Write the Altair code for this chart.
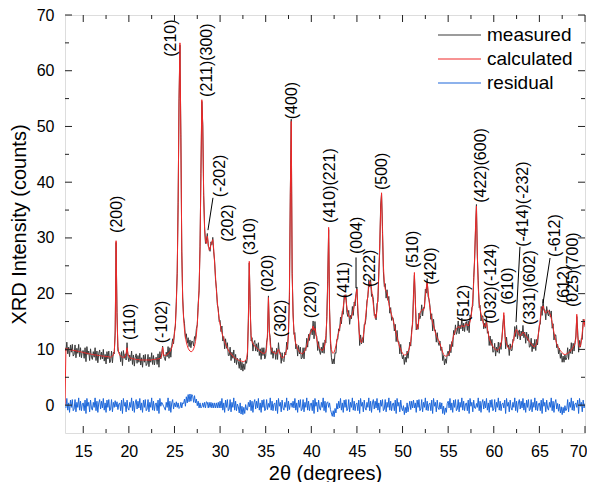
import altair as alt
import pandas as pd

# ---------------- data ----------------
X_START = 13.0
X_STEP = 0.1

calc_rows = [
    [0, 10.2, 10.1, 10.1, 10.0, 10.0, 9.9, 9.9, 9.9, 9.8],
    [9.8, 9.8, 9.7, 9.7, 9.7, 9.6, 9.6, 9.6, 9.5, 9.5],
    [9.4, 9.4, 9.4, 9.3, 9.3, 9.3, 9.2, 9.2, 9.2, 9.1],
    [9.1, 9.1, 9.0, 9.0, 9.0, 9.0, 8.9, 8.9, 8.9, 8.9],
    [8.8, 8.8, 8.8, 8.8, 8.7, 8.7, 8.7, 8.7, 8.7, 8.6],
    [8.6, 8.7, 8.8, 9.0, 9.6, 12.5, 29.5, 16.0, 10.5, 9.3],
    [9.0, 8.8, 8.7, 8.6, 8.6, 8.6, 8.7, 9.3, 10.3, 9.2],
    [8.7, 8.5, 8.4, 8.4, 8.3, 8.3, 8.3, 8.2, 8.2, 8.2],
    [8.2, 8.2, 8.1, 8.1, 8.1, 8.1, 8.1, 8.1, 8.1, 8.1],
    [8.1, 8.1, 8.1, 8.1, 8.1, 8.1, 8.2, 8.2, 8.2, 8.2],
    [8.2, 8.3, 8.3, 8.3, 8.4, 8.5, 8.8, 10.4, 9.2, 8.9],
    [8.9, 9.0, 9.1, 9.2, 9.4, 9.6, 9.9, 10.3, 10.9, 11.7],
    [12.8, 14.5, 18.0, 24.0, 36.0, 55.0, 65.0, 48.0, 28.0, 19.0],
    [15.5, 13.5, 12.2, 11.3, 10.7, 10.2, 9.9, 9.7, 9.6, 9.6],
    [9.8, 10.1, 10.6, 11.4, 12.6, 14.5, 17.5, 21.0, 28.0, 42.0],
    [54.8, 50.0, 38.0, 31.5, 29.5, 29.0, 30.3, 29.0, 27.8, 28.0],
    [28.8, 29.3, 29.7, 28.0, 25.5, 23.0, 20.5, 18.5, 16.8, 15.5],
    [14.5, 13.7, 13.0, 12.4, 11.9, 11.4, 11.0, 10.6, 10.2, 9.9],
    [9.6, 9.4, 9.2, 9.0, 8.8, 8.6, 8.5, 8.4, 8.3, 8.2],
    [8.1, 8.0, 8.0, 7.9, 7.9, 7.8, 7.8, 7.9, 8.0, 8.3],
    [9.5, 15.0, 25.8, 17.0, 12.5, 11.4, 11.0, 10.8, 10.6, 10.4],
    [10.3, 10.1, 10.0, 9.8, 9.7, 9.5, 9.4, 9.3, 9.3, 9.3],
    [9.5, 10.3, 13.0, 19.3, 13.5, 10.8, 10.0, 9.6, 9.4, 9.5],
    [9.3, 9.2, 9.3, 9.7, 10.0, 9.6, 9.0, 8.7, 8.5, 8.5],
    [8.7, 9.0, 9.4, 10.0, 11.0, 12.8, 20.0, 38.0, 50.9, 24.0],
    [16.0, 13.2, 11.8, 11.0, 10.5, 10.1, 9.8, 9.6, 9.4, 9.3],
    [9.2, 9.3, 9.5, 9.8, 10.2, 10.7, 11.3, 12.0, 12.6, 13.0],
    [13.3, 13.6, 14.2, 13.4, 13.8, 12.8, 11.8, 11.0, 10.5, 10.2],
    [10.0, 9.9, 9.8, 9.9, 10.3, 11.0, 12.5, 15.5, 22.0, 31.9],
    [17.0, 11.8, 10.0, 9.4, 9.3, 9.5, 10.0, 10.7, 11.5, 12.5],
    [13.0, 13.8, 14.6, 15.5, 16.5, 17.6, 18.8, 19.8, 18.8, 17.6],
    [16.6, 16.0, 15.7, 15.6, 15.9, 16.4, 17.0, 17.8, 18.8, 19.8],
    [20.8, 17.5, 14.0, 12.2, 11.4, 11.2, 11.6, 12.4, 13.6, 15.0],
    [16.6, 18.2, 19.8, 21.2, 22.2, 21.8, 20.8, 19.5, 18.0, 16.8],
    [15.6, 15.8, 17.0, 19.5, 23.5, 29.0, 35.0, 38.1, 31.0, 25.0],
    [22.0, 20.8, 20.4, 20.2, 19.2, 18.2, 17.4, 16.8, 16.2, 15.6],
    [15.0, 14.3, 13.6, 12.9, 12.2, 11.5, 10.9, 10.4, 10.0, 9.6],
    [9.3, 9.1, 9.0, 9.0, 9.1, 9.3, 9.6, 10.0, 10.6, 11.4],
    [12.8, 15.0, 19.0, 23.8, 18.5, 14.8, 13.6, 14.0, 15.5, 16.5],
    [16.8, 17.0, 17.2, 17.0, 17.8, 19.5, 21.0, 22.0, 20.5, 18.8],
    [17.5, 16.4, 15.5, 14.8, 14.2, 13.6, 13.0, 12.5, 12.1, 11.8],
    [11.5, 11.0, 10.5, 10.0, 9.5, 9.1, 8.9, 8.8, 8.8, 8.9],
    [9.0, 9.3, 9.7, 10.3, 11.0, 11.8, 12.5, 13.0, 13.4, 13.7],
    [13.9, 14.1, 14.0, 13.9, 14.1, 14.3, 14.2, 14.0, 14.2, 14.5],
    [14.6, 14.4, 14.2, 14.5, 15.0, 15.8, 17.0, 19.0, 22.0, 26.5],
    [32.0, 35.7, 27.0, 21.0, 18.5, 17.2, 16.4, 15.6, 15.0, 14.4],
    [14.0, 14.3, 14.8, 13.8, 12.8, 12.0, 11.5, 11.1, 10.8, 10.5],
    [10.3, 10.1, 10.0, 9.9, 9.9, 10.0, 10.2, 10.5, 11.0, 12.0],
    [14.0, 16.6, 13.0, 11.6, 11.0, 10.6, 10.3, 10.1, 10.1, 10.3],
    [10.7, 11.3, 12.0, 12.8, 13.3, 13.6, 13.2, 12.7, 12.5, 12.4],
    [12.6, 12.9, 13.1, 13.0, 12.7, 12.4, 12.2, 12.0, 11.7, 11.4],
    [11.2, 11.0, 10.8, 10.6, 10.5, 10.5, 10.7, 11.1, 11.8, 12.8],
    [14.0, 15.5, 16.8, 17.6, 17.8, 17.2, 16.6, 16.5, 16.8, 17.0],
    [16.9, 16.6, 16.2, 15.6, 14.8, 13.9, 13.0, 12.2, 11.6, 11.0],
    [10.6, 10.3, 10.0, 9.8, 9.6, 9.4, 9.2, 9.1, 9.1, 9.1],
    [9.2, 9.3, 9.4, 9.5, 9.7, 9.9, 10.1, 10.4, 10.7, 11.0],
    [12.0, 16.3, 12.5, 11.0, 10.4, 10.6, 11.5, 13.0, 14.5, 15.4],
    [14.0],
]

meas_rows = [
    [10.3, 9.7, 11.3, 9.2, 10.4, 8.7, 10.8, 9.5, 10.9, 8.8],
    [9.1, 10.8, 8.5, 10.2, 9.3, 10.9, 8.7, 10.3, 8.5, 9.7],
    [9.8, 8.4, 10.3, 7.8, 10.5, 9.1, 9.7, 8.0, 10.1, 8.6],
    [8.2, 9.6, 8.6, 10.3, 8.0, 9.7, 7.6, 9.3, 9.9, 8.2],
    [9.5, 8.3, 10.0, 7.9, 9.1, 7.4, 9.6, 8.3, 9.7, 7.6],
    [7.9, 9.7, 7.6, 9.5, 9.2, 13.3, 29.2, 16.6, 9.7, 9.5],
    [9.4, 7.8, 9.6, 7.1, 9.8, 8.4, 9.2, 8.1, 11.2, 8.7],
    [7.8, 9.0, 8.0, 9.7, 7.3, 9.0, 7.0, 8.6, 9.2, 7.5],
    [8.9, 7.7, 9.3, 7.2, 8.5, 6.8, 9.0, 7.7, 9.1, 7.1],
    [7.4, 9.1, 6.9, 8.6, 7.7, 9.4, 7.3, 8.9, 7.2, 8.4],
    [8.6, 7.3, 9.2, 6.8, 9.6, 8.3, 9.3, 10.6, 9.0, 8.4],
    [8.0, 9.5, 8.7, 10.5, 8.4, 10.3, 8.6, 10.7, 11.9, 11.0],
    [13.2, 14.2, 18.6, 23.6, 36.4, 54.4, 64.6, 48.5, 27.5, 19.4],
    [15.8, 14.6, 12.0, 12.8, 11.1, 12.1, 10.5, 11.7, 10.3, 11.5],
    [11.4, 10.6, 12.3, 11.8, 13.7, 14.4, 18.2, 20.5, 28.4, 41.5],
    [54.5, 50.4, 37.6, 32.0, 29.0, 29.6, 30.8, 28.5, 28.3, 27.6],
    [29.3, 28.8, 30.1, 27.5, 25.9, 22.5, 20.9, 18.0, 17.3, 15.0],
    [15.2, 13.2, 14.2, 11.5, 12.3, 10.1, 11.9, 10.2, 11.2, 8.9],
    [8.9, 10.4, 8.0, 9.5, 8.4, 9.9, 7.6, 9.1, 7.3, 8.4],
    [7.8, 6.6, 8.4, 6.3, 7.7, 6.1, 7.4, 6.4, 8.1, 7.5],
    [8.6, 15.5, 25.5, 17.9, 11.5, 12.1, 9.7, 11.2, 11.6, 9.7],
    [11.0, 9.6, 11.2, 8.9, 10.1, 8.2, 10.3, 8.9, 10.3, 8.3],
    [8.8, 11.3, 12.2, 19.6, 13.1, 12.1, 9.1, 10.3, 8.4, 9.7],
    [9.7, 8.2, 10.2, 8.2, 11.2, 9.4, 9.5, 7.5, 9.4, 8.0],
    [7.8, 9.5, 9.0, 11.3, 10.0, 13.5, 19.2, 38.2, 51.3, 23.6],
    [16.7, 12.7, 13.0, 10.1, 10.9, 8.8, 10.7, 9.2, 10.4, 8.3],
    [8.5, 10.3, 8.3, 10.3, 9.8, 12.0, 10.4, 12.7, 11.6, 13.2],
    [13.7, 12.6, 15.1, 11.9, 15.0, 12.6, 12.3, 9.8, 11.4, 9.7],
    [9.1, 10.4, 9.4, 11.2, 9.3, 11.7, 11.2, 15.9, 22.6, 31.5],
    [17.4, 11.0, 8.6, 7.4, 8.3, 7.4, 9.4, 9.3, 11.8, 11.8],
    [13.7, 13.3, 15.8, 14.6, 16.9, 16.3, 19.7, 19.4, 19.8, 16.6],
    [15.9, 17.0, 14.5, 16.1, 15.5, 17.7, 16.1, 18.5, 17.8, 20.0],
    [21.2, 16.5, 14.9, 10.7, 12.6, 11.0, 12.1, 11.2, 14.5, 14.5],
    [15.7, 18.7, 19.4, 22.5, 21.2, 22.5, 19.5, 19.9, 19.0, 16.1],
    [16.3, 15.3, 18.2, 18.6, 23.9, 27.7, 35.9, 37.9, 32.0, 24.0],
    [21.3, 21.8, 19.2, 20.7, 18.8, 19.5, 16.5, 17.5, 15.2, 15.8],
    [15.4, 13.3, 14.5, 11.4, 13.4, 11.3, 11.4, 9.2, 10.9, 9.1],
    [8.3, 9.0, 7.3, 8.6, 7.7, 9.7, 8.4, 9.8, 11.3, 10.6],
    [13.5, 14.5, 19.9, 23.3, 18.9, 13.5, 14.5, 13.6, 16.5, 15.5],
    [16.1, 18.0, 16.0, 17.5, 17.4, 20.8, 20.1, 22.7, 19.5, 19.0],
    [17.9, 15.4, 16.4, 13.3, 15.4, 13.4, 13.5, 11.3, 13.0, 11.3],
    [10.7, 11.5, 9.8, 10.4, 8.0, 8.9, 7.2, 8.3, 7.5, 9.2],
    [9.7, 8.8, 10.9, 9.4, 11.4, 10.5, 13.4, 12.6, 14.4, 12.7],
    [13.2, 15.1, 12.8, 14.4, 13.7, 15.6, 13.3, 14.7, 13.2, 14.7],
    [15.0, 13.4, 15.1, 13.0, 16.2, 15.6, 17.5, 17.8, 22.9, 26.0],
    [31.4, 36.0, 26.6, 22.3, 17.5, 17.9, 15.1, 16.0, 16.0, 13.7],
    [14.7, 13.8, 16.0, 12.9, 13.2, 10.7, 12.4, 10.7, 11.8, 9.5],
    [9.6, 11.1, 8.8, 10.4, 9.5, 11.3, 9.3, 11.2, 10.0, 12.2],
    [14.4, 16.1, 13.9, 10.1, 12.2, 10.4, 10.8, 8.9, 11.0, 9.8],
    [9.8, 11.8, 11.6, 14.1, 12.3, 14.3, 11.9, 13.1, 13.5, 11.7],
    [13.3, 12.4, 14.3, 12.1, 13.1, 11.1, 13.1, 11.6, 12.7, 10.4],
    [10.5, 12.0, 9.6, 11.1, 10.1, 11.8, 9.8, 11.8, 10.8, 13.0],
    [14.4, 14.5, 17.7, 16.1, 19.0, 17.0, 17.1, 15.3, 17.7, 16.5],
    [16.0, 17.1, 15.8, 16.9, 13.8, 14.6, 11.7, 12.6, 12.6, 10.3],
    [10.9, 9.2, 10.2, 8.4, 9.3, 7.7, 8.8, 7.7, 9.0, 8.1],
    [8.5, 10.3, 8.2, 10.0, 9.3, 11.2, 9.2, 11.1, 9.7, 11.2],
    [12.4, 15.9, 13.4, 9.5, 11.6, 10.4, 12.0, 11.8, 15.4, 14.9],
    [14.3],
]

peak_labels = ["(200)", "(110)", "(-102)", "(210)", "(211)(300)", "(-202)", "(202)",
               "(310)", "(020)", "(302)", "(400)", "(220)", "(410)(221)", "(411)",
               "(004)", "(222)", "(500)", "(510)", "(420)", "(512)", "(422)(600)",
               "(032)(-124)", "(610)", "(-414)(-232)", "(331)(602)", "(-612)", "(612)",
               "(025)(700)"]
peak_label_x = [18.75, 20.12, 23.6, 24.62, 28.56, 29.99, 30.87, 33.28, 35.25, 36.68,
                37.88, 39.96, 42.05, 43.58, 45.0, 46.43, 47.75, 51.15, 53.12, 56.74,
                58.6, 59.69, 61.56, 63.2, 63.97, 66.71, 67.7, 68.68]
peak_label_y = [30.9, 11.7, 11.1, 62.5, 55.3, 37.3, 29.3, 26.9, 20.3, 12.2,
                51.3, 15.6, 32.7, 19.2, 27.1, 21.2, 38.6, 24.6, 21.6, 14.9,
                36.3, 14.6, 18.0, 28.4, 14.4, 26.6, 18.3, 17.6]

# leader lines from labels to their peaks
lead_x1 = [29.22, 44.9, 62.87, 66.17]
lead_y1 = [37.2, 26.5, 28.4, 26.4]
lead_x2 = [28.67, 44.9, 62.44, 65.4]
lead_y2 = [31.4, 21.0, 14.9, 18.3]

x_major = [15, 20, 25, 30, 35, 40, 45, 50, 55, 60, 65, 70]
x_minor = [17.5, 22.5, 27.5, 32.5, 37.5, 42.5, 47.5, 52.5, 57.5, 62.5, 67.5]
y_major = [0, 10, 20, 30, 40, 50, 60, 70]
y_minor = [5, 15, 25, 35, 45, 55, 65]

series_names = ["measured", "calculated", "residual"]
series_colors = ["#3a3a3a", "#f02828", "#1d67da"]

# ---------------- build tables ----------------
calc = [v for r in calc_rows for v in r]
meas = [v for r in meas_rows for v in r]
xs = [round(X_START + X_STEP * i, 1) for i in range(len(calc))]

df_meas = pd.DataFrame({"x": xs, "y": meas, "series": "measured"})
df_calc = pd.DataFrame({"x": xs, "y": calc, "series": "calculated"})
df_res = pd.DataFrame({"x": xs[1:], "y": [m - c for m, c in zip(meas[1:], calc[1:])],
                       "series": "residual"})
df_lab = pd.DataFrame({"x": peak_label_x, "y": peak_label_y, "t": peak_labels})
df_lead = pd.DataFrame({"x": lead_x1, "y": lead_y1, "x2": lead_x2, "y2": lead_y2})

W, H = 520, 418
FONT = "Liberation Sans"

xscale = alt.Scale(domain=[13, 70], nice=False, zero=False)
yscale = alt.Scale(domain=[-5, 70], nice=False, zero=False)

color = alt.Color(
    "series:N",
    scale=alt.Scale(domain=series_names, range=series_colors),
    legend=alt.Legend(
        title=None, orient="none", legendX=372, legendY=9,
        symbolType="stroke", symbolSize=1849, symbolStrokeWidth=1.2,
        clipHeight=22, rowPadding=2, labelFontSize=19, labelFont=FONT,
        labelColor="black", labelOffset=5, padding=0,
    ),
)

x_axis = alt.Axis(values=x_major, title="2θ (degrees)", ticks=False, domain=False,
                  grid=False, labelFontSize=16, labelFont=FONT, labelColor="black",
                  labelPadding=10, titleFontSize=20, titleFont=FONT, titleColor="black",
                  titleFontWeight="normal", titlePadding=4,
                  labelFlush=True, labelFlushOffset=2)
y_axis = alt.Axis(values=y_major, title="XRD Intensity (counts)", ticks=False, domain=False,
                  grid=False, labelFontSize=16, labelFont=FONT, labelColor="black",
                  labelPadding=11, titleFontSize=20, titleFont=FONT, titleColor="black",
                  titleFontWeight="normal", titlePadding=7, labelFlush=False)

X_ENC = dict(scale=xscale, axis=x_axis, title="2θ (degrees)")
Y_ENC = dict(scale=yscale, axis=y_axis, title="XRD Intensity (counts)")


def line_layer(df):
    return alt.Chart(df).mark_line(strokeWidth=1, clip=True).encode(
        x=alt.X("x:Q", **X_ENC),
        y=alt.Y("y:Q", **Y_ENC),
        color=color,
    )


layers = [line_layer(df_meas), line_layer(df_calc), line_layer(df_res)]

labels = alt.Chart(df_lab).mark_text(
    angle=270, align="left", baseline="middle", fontSize=16, font=FONT, color="black"
).encode(
    x=alt.X("x:Q", **X_ENC),
    y=alt.Y("y:Q", **Y_ENC),
    text="t:N",
)
layers.append(labels)

leads = alt.Chart(df_lead).mark_rule(color="black", strokeWidth=1).encode(
    x=alt.X("x:Q", **X_ENC),
    y=alt.Y("y:Q", **Y_ENC),
    x2="x2:Q", y2="y2:Q",
)
layers.append(leads)

TICK = "#222222"
for vals, ln in ((x_major, 7), (x_minor, 4)):
    d = pd.DataFrame({"t": vals})
    for y0, y1 in ((H, H - ln), (0, ln)):
        layers.append(alt.Chart(d).mark_rule(color=TICK, strokeWidth=1).encode(
            x=alt.X("t:Q", **X_ENC),
            y=alt.value(y0), y2=alt.value(y1)))
for vals, ln in ((y_major, 7), (y_minor, 4)):
    d = pd.DataFrame({"t": vals})
    for x0, x1 in ((0, ln), (W, W - ln)):
        layers.append(alt.Chart(d).mark_rule(color=TICK, strokeWidth=1).encode(
            y=alt.Y("t:Q", **Y_ENC),
            x=alt.value(x0), x2=alt.value(x1)))

chart = alt.layer(*layers).properties(
    width=W, height=H,
    autosize=alt.AutoSizeParams(type="none"),
    padding={"left": 57, "top": 7, "right": 2, "bottom": 49},
).configure_view(stroke="black", strokeWidth=1).configure(background="white")

chart.save("out.html", embed_options={"renderer": "svg", "actions": False})
